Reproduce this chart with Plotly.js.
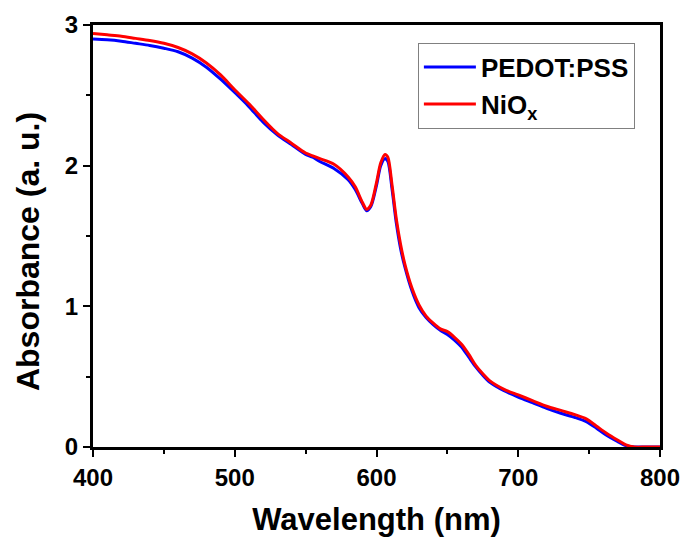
<!DOCTYPE html>
<html>
<head>
<meta charset="utf-8">
<script src="https://cdn.plot.ly/plotly-3.0.1.min.js"></script>
<style>html,body{margin:0;padding:0;background:#fff;}#chart{width:687px;height:537px;}</style>
</head>
<body>
<div id="chart"></div>
<script>
const wavelength = [400,410,420,430,440,450,460,470,480,490,500,510,520,530,540,550,555,560,570,580,585,590,593,596,600,603,606,608,611,614,617,620,625,630,635,640,645,650,655,660,665,670,675,680,690,700,710,720,730,740,748,755,762,770,776,782,790,800];
const pedotPss = [2.90,2.895,2.885,2.87,2.855,2.835,2.81,2.765,2.70,2.615,2.52,2.42,2.31,2.22,2.15,2.08,2.06,2.03,1.98,1.90,1.83,1.73,1.68,1.71,1.86,2.00,2.05,2.03,1.83,1.59,1.41,1.28,1.11,0.99,0.92,0.87,0.83,0.80,0.76,0.71,0.64,0.57,0.51,0.46,0.40,0.355,0.315,0.275,0.24,0.21,0.18,0.135,0.085,0.04,0.01,0,0,0];
const niox = [2.94,2.93,2.92,2.905,2.89,2.87,2.84,2.795,2.73,2.645,2.54,2.44,2.33,2.23,2.16,2.09,2.07,2.05,2.01,1.92,1.85,1.74,1.69,1.72,1.88,2.02,2.08,2.06,1.86,1.62,1.44,1.30,1.13,1.01,0.93,0.88,0.84,0.82,0.78,0.73,0.66,0.58,0.52,0.47,0.41,0.37,0.33,0.29,0.26,0.23,0.20,0.15,0.10,0.05,0.015,0,0,0];
const seriesNames = ['PEDOT:PSS','NiO<sub>x</sub>'];
const xTicks = [400,500,600,700,800];
const yTicks = [0,1,2,3];
const xTitle = 'Wavelength (nm)';
const yTitle = 'Absorbance (a. u.)';

const fam = '"Liberation Sans", Arial, sans-serif';
const traces = [
  {x: wavelength, y: pedotPss, name: seriesNames[0], type:'scatter', mode:'lines',
   line:{color:'#0000ff', width:3, shape:'spline', smoothing:0.8}},
  {x: wavelength, y: niox, name: seriesNames[1], type:'scatter', mode:'lines',
   line:{color:'#ff0000', width:3, shape:'spline', smoothing:0.8}}
];
const axisCommon = {
  showline:true, linecolor:'#000', linewidth:3, mirror:true,
  ticks:'outside', ticklen:7, tickwidth:2, tickcolor:'#000',
  showgrid:false, zeroline:false,
  tickfont:{family:fam, size:24, color:'#000', weight:'bold'},
  minor:{ticks:'outside', ticklen:4, tickwidth:2, tickcolor:'#000', showgrid:false}
};
const layout = {
  width:687, height:537,
  margin:{l:93, r:27, t:25, b:90},
  paper_bgcolor:'#fff', plot_bgcolor:'#fff',
  showlegend:true,
  xaxis: Object.assign({}, axisCommon, {
    range:[400,800], tickvals:xTicks, ticktext:xTicks.map(String),
    minor:Object.assign({}, axisCommon.minor, {dtick:50}),
    title:{text:xTitle, font:{family:fam, size:31, color:'#000', weight:'bold'}, standoff:20}
  }),
  yaxis: Object.assign({}, axisCommon, {
    range:[0,3], tickvals:yTicks, ticktext:yTicks.map(String),
    minor:Object.assign({}, axisCommon.minor, {dtick:0.5})
  }),
  annotations:[{
    text:yTitle, xref:'paper', yref:'paper', x:-0.1146, y:0.462,
    xanchor:'center', yanchor:'middle', textangle:-90, showarrow:false,
    font:{family:fam, size:32, color:'#000', weight:'bold'}
  }],
  legend:{x:0.573, y:0.958, xanchor:'left', yanchor:'top',
    bgcolor:'#fff', bordercolor:'#808080', borderwidth:1,
    font:{family:fam, size:26, color:'#000', weight:'bold'},
    itemwidth:52, tracegroupgap:0}
};
Plotly.newPlot('chart', traces, layout, {displayModeBar:false, staticPlot:true});
</script>
</body>
</html>
